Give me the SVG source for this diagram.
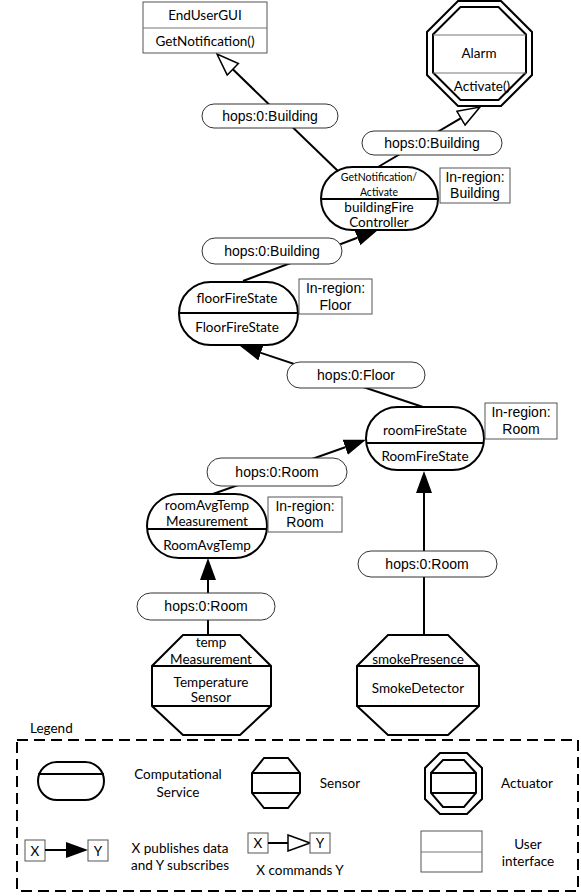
<svg xmlns="http://www.w3.org/2000/svg" width="581" height="896" viewBox="0 0 581 896">
<style>
 .c{font-family:Lato,"Open Sans","Liberation Sans",sans-serif;font-size:13.5px;fill:#000;text-anchor:middle}
 .s{font-size:10.5px}
 .l{text-anchor:start}
 .a{font-family:"Liberation Sans",Arial,sans-serif;font-size:14px;fill:#000;text-anchor:middle}
 .n{fill:#fff;stroke:#000;stroke-width:2}
 .d{stroke:#000;stroke-width:2;fill:none}
 .gl{stroke:#777;stroke-width:1;fill:none}
 .e{stroke:#000;stroke-width:2;fill:none}
 .pill{fill:#fff;stroke:#333;stroke-width:1}
 .box{fill:#fff;stroke:#555;stroke-width:1}
 .lg{fill:none;stroke:#000;stroke-width:2;stroke-dasharray:11 6}
</style>
<defs>
 <marker id="fa" markerUnits="userSpaceOnUse" viewBox="0 0 22 16" markerWidth="22" markerHeight="16" refX="0" refY="8" orient="auto"><path d="M0,0 L22,8 L0,16 Z" fill="#000"/></marker>
 <marker id="ha" markerUnits="userSpaceOnUse" viewBox="0 0 24 18" markerWidth="24" markerHeight="18" refX="1" refY="9" orient="auto"><path d="M1,1 L23,9 L1,17 Z" fill="#fff" stroke="#000" stroke-width="1.5"/></marker>
</defs>
<rect width="581" height="896" fill="#fff"/>

<g id="connectors">
 <line class="e" x1="340" y1="173" x2="232.8" y2="69.3" marker-end="url(#ha)"/>
 <line class="e" x1="378" y1="167" x2="461" y2="118.2" marker-end="url(#ha)"/>
 <line class="e" x1="243" y1="281" x2="357.4" y2="237.8" marker-end="url(#fa)"/>
 <line class="e" x1="423" y1="407" x2="260.9" y2="352.9" marker-end="url(#fa)"/>
 <line class="e" x1="210" y1="495" x2="345.2" y2="447.2" marker-end="url(#fa)"/>
 <line class="e" x1="208" y1="636" x2="208" y2="580" marker-end="url(#fa)"/>
 <line class="e" x1="424" y1="636" x2="424" y2="493" marker-end="url(#fa)"/>
 <g id="labels">
  <rect class="pill" x="202" y="104" width="136" height="24" rx="12"/>
  <text class="a" x="270" y="121">hops:0:Building</text>
  <rect class="pill" x="362" y="131" width="140" height="24" rx="12"/>
  <text class="a" x="432" y="148">hops:0:Building</text>
  <rect class="pill" x="202" y="238" width="140" height="26" rx="13"/>
  <text class="a" x="272" y="256">hops:0:Building</text>
  <rect class="pill" x="287" y="362" width="138" height="26" rx="13"/>
  <text class="a" x="356" y="380">hops:0:Floor</text>
  <rect class="pill" x="207" y="458" width="140" height="28" rx="14"/>
  <text class="a" x="277" y="477">hops:0:Room</text>
  <rect class="pill" x="358" y="551" width="139" height="26" rx="13"/>
  <text class="a" x="427" y="569">hops:0:Room</text>
  <rect class="pill" x="137" y="593" width="138" height="27" rx="13.5"/>
  <text class="a" x="206" y="611">hops:0:Room</text>
 </g>
</g>

<g id="endUserGUI">
 <rect x="143" y="2" width="124" height="51" fill="#fff" stroke="#555" stroke-width="1"/>
 <line class="gl" x1="143" y1="28" x2="267" y2="28"/>
 <text class="c" x="205" y="20">EndUserGUI</text>
 <text class="c" x="205" y="46">GetNotification()</text>
</g>

<g id="alarm">
 <polygon class="n" points="458,1 501,1 532,32 532,75 501,106 458,106 427,75 427,32"/>
 <polygon class="n" points="460.5,7 498.5,7 526,34.5 526,72.5 498.5,100 460.5,100 433,72.5 433,34.5"/>
 <line class="gl" x1="433" y1="35" x2="526" y2="35"/>
 <line class="gl" x1="433" y1="73" x2="526" y2="73"/>
 <text class="c" x="479" y="58">Alarm</text>
 <text class="c" x="482" y="91">Activate()</text>
</g>

<g id="buildingFireController">
 <rect class="n" x="321" y="167" width="117" height="63" rx="31.5"/>
 <line class="d" x1="321" y1="199" x2="438" y2="199"/>
 <text class="c s" x="379" y="181">GetNotification/</text>
 <text class="c s" x="379" y="196">Activate</text>
 <text class="c" x="379" y="212">buildingFire</text>
 <text class="c" x="379" y="227">Controller</text>
</g>
<g id="regionBuilding">
 <rect class="box" x="440" y="168" width="70" height="35"/>
 <text class="a" x="475" y="182">In-region:</text>
 <text class="a" x="475" y="198">Building</text>
</g>

<g id="floorFireState">
 <rect class="n" x="179" y="282" width="119" height="63" rx="31.5"/>
 <line class="d" x1="179" y1="313" x2="298" y2="313"/>
 <text class="c" x="237" y="303">floorFireState</text>
 <text class="c" x="237" y="332">FloorFireState</text>
</g>
<g id="regionFloor">
 <rect class="box" x="299" y="279" width="73" height="35"/>
 <text class="a" x="335.5" y="293">In-region:</text>
 <text class="a" x="335.5" y="310">Floor</text>
</g>

<g id="roomFireState">
 <rect class="n" x="366" y="407" width="118" height="63" rx="31.5"/>
 <line class="d" x1="366" y1="443" x2="484" y2="443"/>
 <text class="c" x="425" y="435">roomFireState</text>
 <text class="c" x="425" y="461">RoomFireState</text>
</g>
<g id="regionRoom1">
 <rect class="box" x="485" y="403" width="72" height="36"/>
 <text class="a" x="521" y="417">In-region:</text>
 <text class="a" x="521" y="434">Room</text>
</g>

<g id="roomAvgTemp">
 <rect class="n" x="147" y="494" width="120" height="64" rx="32"/>
 <line class="d" x1="147" y1="529" x2="267" y2="529"/>
 <text class="c" x="207" y="510">roomAvgTemp</text>
 <text class="c" x="207" y="526">Measurement</text>
 <text class="c" x="207" y="550">RoomAvgTemp</text>
</g>
<g id="regionRoom2">
 <rect class="box" x="268" y="497" width="74" height="35"/>
 <text class="a" x="305" y="511">In-region:</text>
 <text class="a" x="305" y="527">Room</text>
</g>

<g id="temperatureSensor">
 <polygon class="n" points="183,635 240,635 271,666 271,706 240,735 183,735 152,706 152,666"/>
 <line class="d" x1="152" y1="666" x2="271" y2="666"/>
 <line class="d" x1="152" y1="706" x2="271" y2="706"/>
 <text class="c" x="211" y="647">temp</text>
 <text class="c" x="211" y="664">Measurement</text>
 <text class="c" x="211" y="687">Temperature</text>
 <text class="c" x="211" y="702">Sensor</text>
</g>

<g id="smokeDetector">
 <polygon class="n" points="388,635 448,635 479,666 479,706 448,735 388,735 357,706 357,666"/>
 <line class="d" x1="357" y1="666" x2="479" y2="666"/>
 <line class="d" x1="357" y1="706" x2="479" y2="706"/>
 <text class="c" x="418" y="664">smokePresence</text>
 <text class="c" x="418" y="693">SmokeDetector</text>
</g>

<g id="legend">
 <text class="c l" x="30" y="733">Legend</text>
 <rect class="lg" x="17" y="740" width="561" height="151"/>
 <rect class="n" x="38" y="762" width="66" height="38" rx="19"/>
 <line class="d" x1="38" y1="774" x2="104" y2="774"/>
 <text class="c" x="178" y="779">Computational</text>
 <text class="c" x="178" y="797">Service</text>
 <polygon class="n" points="264,758 288,758 300,773 300,793 288,808 264,808 252,793 252,773"/>
 <line class="d" x1="252" y1="773" x2="300" y2="773"/>
 <line class="d" x1="252" y1="793" x2="300" y2="793"/>
 <text class="c" x="340" y="788">Sensor</text>
 <polygon class="n" points="440,753 467,753 482,768 482,799 467,814 440,814 425,799 425,768"/>
 <polygon class="n" points="443,760 464,760 476,773 476,793 464,807 443,807 431,793 431,773"/>
 <line class="d" x1="431" y1="773" x2="476" y2="773"/>
 <line class="d" x1="431" y1="793" x2="476" y2="793"/>
 <text class="c" x="527" y="788">Actuator</text>
 <rect class="box" x="25" y="840" width="20" height="21"/>
 <text class="c" x="35" y="856">X</text>
 <line class="e" x1="45" y1="850" x2="66" y2="850" marker-end="url(#fa)"/>
 <rect class="box" x="88" y="840" width="20" height="21"/>
 <text class="c" x="98" y="856">Y</text>
 <text class="c" x="180" y="853">X publishes data</text>
 <text class="c" x="180" y="870">and Y subscribes</text>
 <rect class="box" x="248" y="833" width="20" height="20"/>
 <text class="c" x="258" y="848">X</text>
 <line class="e" x1="268" y1="843" x2="288" y2="843" marker-end="url(#ha)"/>
 <rect class="box" x="310" y="833" width="20" height="20"/>
 <text class="c" x="320" y="848">Y</text>
 <text class="c" x="300" y="875">X commands Y</text>
 <rect class="box" x="421" y="831" width="61" height="41"/>
 <line class="gl" x1="421" y1="852" x2="482" y2="852"/>
 <text class="c" x="528" y="849">User</text>
 <text class="c" x="528" y="866">interface</text>
</g>
</svg>
